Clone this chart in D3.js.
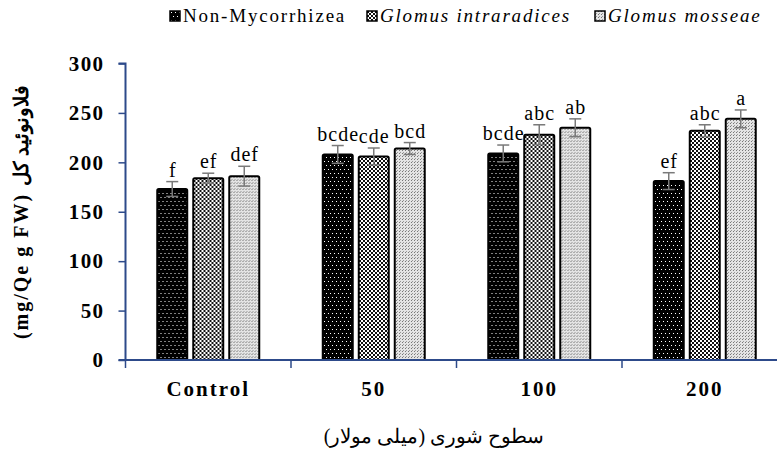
<!DOCTYPE html>
<html>
<head>
<meta charset="utf-8">
<script src="https://cdn.jsdelivr.net/npm/d3@7"></script>
<style>
  body { margin: 0; background: #fff; }
  svg { display: block; }
  svg text { font-family: "Times New Roman", Times, "Liberation Serif", serif; }
</style>
</head>
<body>
<div id="chart"></div>
<script>
// data
const categories = ['Control', '50', '100', '200'];
const seriesNames = ['Non-Mycorrhizea', 'Glomus intraradices', 'Glomus mosseae'];
const nonMyc = [173, 208, 209, 181];
const intraradices = [184, 206, 228, 232];
const mosseae = [186, 214, 235, 244];
const nonMycErr = [7.5, 9, 8.5, 8.5];
const intraErr = [5, 8.5, 10, 6];
const mosseErr = [10, 6, 9, 9];
const nonMycLetters = ['f', 'bcde', 'bcde', 'ef'];
const intraLetters = ['ef', 'cde', 'abc', 'abc'];
const mosseLetters = ['def', 'bcd', 'ab', 'a'];
const yTicks = [0, 50, 100, 150, 200, 250, 300];

const width = 777, height = 452;
const axisColor = '#2d4a8a';
const serif = '"Times New Roman", Times, "Liberation Serif", serif';

const svg = d3.select('#chart').append('svg')
  .attr('width', width)
  .attr('height', height);

// fill patterns
const defs = svg.append('defs');
const p0 = defs.append('pattern').attr('id', 'pat0')
  .attr('width', 8).attr('height', 8).attr('patternUnits', 'userSpaceOnUse');
p0.append('rect').attr('width', 8).attr('height', 8).attr('fill', '#000');
[[1, 1], [5, 1], [3, 5], [7, 5]].forEach(([x, y]) => {
  p0.append('rect').attr('x', x).attr('y', y).attr('width', 1).attr('height', 1).attr('fill', '#fff');
});
const p1 = defs.append('pattern').attr('id', 'pat1')
  .attr('width', 4).attr('height', 4).attr('patternUnits', 'userSpaceOnUse');
p1.append('rect').attr('width', 4).attr('height', 4).attr('fill', '#fff');
p1.append('rect').attr('width', 2).attr('height', 2).attr('fill', '#111');
p1.append('rect').attr('x', 2).attr('y', 2).attr('width', 2).attr('height', 2).attr('fill', '#111');
const p2 = defs.append('pattern').attr('id', 'pat2')
  .attr('width', 3).attr('height', 3).attr('patternUnits', 'userSpaceOnUse');
p2.append('rect').attr('width', 3).attr('height', 3).attr('fill', '#e4e4e4');
p2.append('rect').attr('width', 1).attr('height', 1).attr('fill', '#777');
p2.append('rect').attr('x', 1).attr('y', 2).attr('width', 1).attr('height', 1).attr('fill', '#999');

const fills = ['url(#pat0)', 'url(#pat1)', 'url(#pat2)'];

const x0 = 125.5, y0 = 360, yTop = 63.5;
const x = d3.scaleBand().domain(categories).range([x0, x0 + 4 * 165.5]);
const xs = d3.scaleBand().domain(seriesNames).range([31.75, 133.75]).paddingInner(0.167);
const y = d3.scaleLinear().domain([0, 300]).range([y0, yTop]);

const rows = categories.map((c, i) => ({
  cat: c,
  items: [
    { s: seriesNames[0], v: nonMyc[i], e: nonMycErr[i], l: nonMycLetters[i], f: fills[0] },
    { s: seriesNames[1], v: intraradices[i], e: intraErr[i], l: intraLetters[i], f: fills[1] },
    { s: seriesNames[2], v: mosseae[i], e: mosseErr[i], l: mosseLetters[i], f: fills[2] }
  ]
}));

// y axis
const yAxis = svg.append('g')
  .attr('transform', `translate(${x0},0)`)
  .call(d3.axisLeft(y).tickValues(yTicks).tickSize(7).tickPadding(14));
yAxis.attr('font-family', null);
yAxis.select('.domain').attr('stroke', axisColor).attr('stroke-width', 2).attr('d', `M-7,${yTop}H0V${y0}`);
yAxis.selectAll('.tick line').attr('stroke', axisColor).attr('stroke-width', 1.5);
yAxis.selectAll('.tick text')
  .style('font-family', serif).attr('font-weight', 'bold').attr('font-size', 21)
  .attr('letter-spacing', 1.4).attr('fill', '#000');

// bars
const groups = svg.selectAll('.cat').data(rows).enter().append('g')
  .attr('class', 'cat')
  .attr('transform', d => `translate(${x(d.cat)},0)`);

groups.selectAll('rect.bar').data(d => d.items).enter().append('rect')
  .attr('class', 'bar')
  .attr('x', d => xs(d.s))
  .attr('y', d => y(d.v))
  .attr('width', xs.bandwidth())
  .attr('height', d => y0 - y(d.v))
  .attr('rx', 1.5)
  .attr('fill', d => d.f)
  .attr('stroke', '#000')
  .attr('stroke-width', 2);

// error bars
const err = groups.selectAll('g.err').data(d => d.items).enter().append('g')
  .attr('class', 'err')
  .attr('stroke', '#7a7a7a')
  .attr('stroke-width', 1.5);
err.append('line')
  .attr('x1', d => xs(d.s) + xs.bandwidth() / 2)
  .attr('x2', d => xs(d.s) + xs.bandwidth() / 2)
  .attr('y1', d => y(d.v + d.e))
  .attr('y2', d => y(d.v - d.e));
[1, -1].forEach(sign => {
  err.append('line')
    .attr('x1', d => xs(d.s) + xs.bandwidth() / 2 - 6)
    .attr('x2', d => xs(d.s) + xs.bandwidth() / 2 + 6)
    .attr('y1', d => y(d.v + sign * d.e))
    .attr('y2', d => y(d.v + sign * d.e));
});

groups.selectAll('text.letter').data(d => d.items).enter().append('text')
  .attr('class', 'letter')
  .attr('x', d => xs(d.s) + xs.bandwidth() / 2 + 0.5)
  .attr('y', d => y(d.v + d.e) - 5)
  .attr('text-anchor', 'middle')
  .attr('font-size', 20)
  .attr('letter-spacing', 1)
  .text(d => d.l);

// x axis
const xAxis = svg.append('g')
  .attr('transform', `translate(0,${y0})`)
  .call(d3.axisBottom(x).tickSize(0).tickPadding(21));
xAxis.select('.domain').attr('stroke', axisColor).attr('stroke-width', 2).attr('d', `M${x0 - 7},0H${width}`);
xAxis.selectAll('.tick text')
  .style('font-family', serif).attr('font-weight', 'bold').attr('font-size', 21)
  .attr('letter-spacing', 2).attr('fill', '#000');
xAxis.selectAll('.sep').data(categories).enter().append('line')
  .attr('class', 'sep')
  .attr('x1', d => x(d)).attr('x2', d => x(d))
  .attr('y1', 0).attr('y2', 8)
  .attr('stroke', axisColor).attr('stroke-width', 1.5);

// axis titles
svg.append('text')
  .attr('x', 434).attr('y', 443)
  .attr('text-anchor', 'middle')
  .attr('font-size', 20)
  .attr('fill', '#000')
  .text('سطوح شوری (میلی مولار)');

svg.append('text')
  .attr('transform', 'translate(28,212) rotate(-90)')
  .attr('text-anchor', 'middle')
  .attr('font-weight', 'bold')
  .attr('font-size', 20)
  .attr('letter-spacing', 2)
  .attr('fill', '#000')
  .text('(mg/Qe g FW) فلاونوئید کل');

// legend
const legendX = [170, 367, 595];
const legend = svg.selectAll('.leg').data(seriesNames).enter().append('g')
  .attr('class', 'leg')
  .attr('transform', (d, i) => `translate(${legendX[i]},11)`);
legend.append('rect')
  .attr('width', 10).attr('height', 10)
  .attr('fill', (d, i) => fills[i])
  .attr('stroke', '#000').attr('stroke-width', 1.5);
legend.append('text')
  .attr('x', 13).attr('y', 11)
  .attr('font-size', 19)
  .attr('letter-spacing', 1.8)
  .attr('font-style', (d, i) => i === 0 ? 'normal' : 'italic')
  .text(d => d);
</script>
</body>
</html>
